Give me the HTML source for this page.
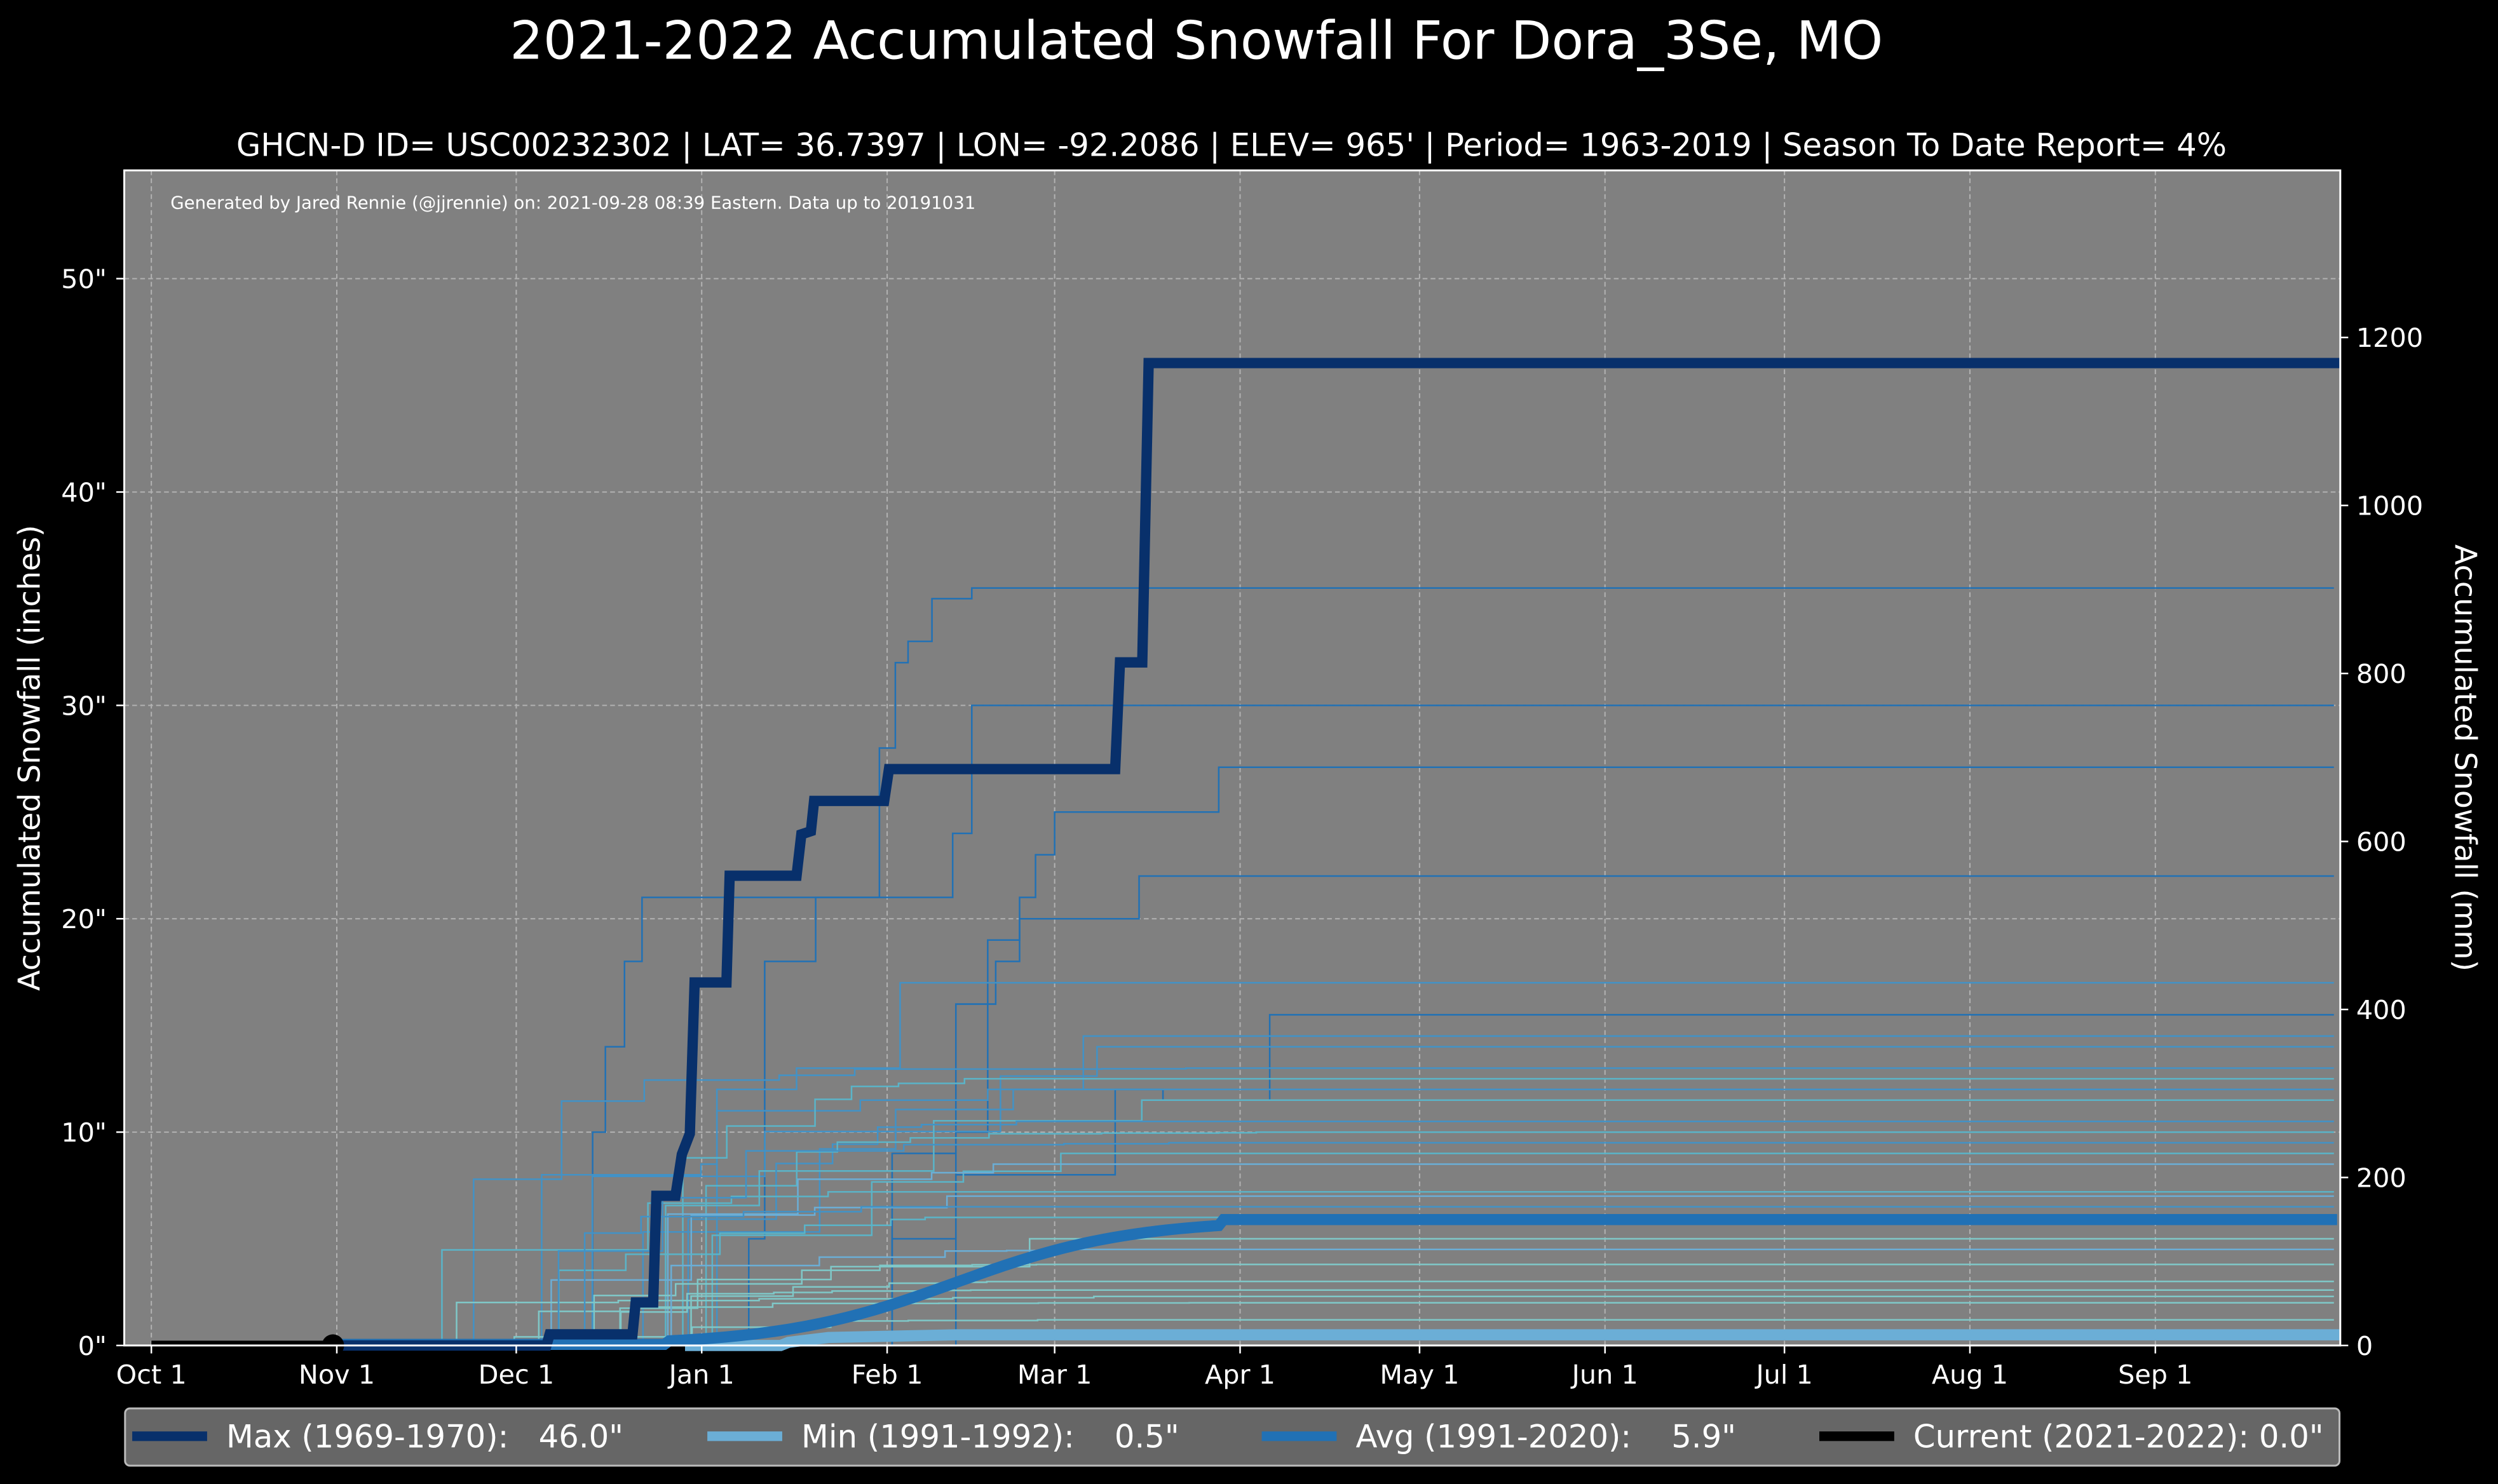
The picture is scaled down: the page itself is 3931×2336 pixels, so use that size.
<!DOCTYPE html>
<html><head><meta charset="utf-8"><style>
html,body{margin:0;padding:0;background:#000;}
svg{display:block;}
text{font-family:"DejaVu Sans","Liberation Sans",sans-serif;fill:#fff;white-space:pre;}
</style></head><body>
<svg id="s" width="3931" height="2336" viewBox="0 0 1568 932" preserveAspectRatio="none" xmlns="http://www.w3.org/2000/svg">
<rect width="1568" height="932" fill="#000"/>
<text x="751" y="37" font-size="33" text-anchor="middle">2021-2022 Accumulated Snowfall For Dora_3Se, MO</text>
<text x="773" y="98" font-size="19.8" text-anchor="middle">GHCN-D ID= USC00232302 | LAT= 36.7397 | LON= -92.2086 | ELEV= 965' | Period= 1963-2019 | Season To Date Report= 4%</text>
<rect x="78" y="107" width="1391" height="738" fill="#808080"/>
<g id="grid" stroke="#c8c8c8" stroke-width="0.8" stroke-dasharray="3,2" opacity="0.7"></g>
<text x="107" y="131" font-size="11">Generated by Jared Rennie (@jjrennie) on: 2021-09-28 08:39 Eastern. Data up to 20191031</text>
<g id="thin" fill="none" stroke-width="1"></g>
<polyline fill="none" stroke="#6baed6" stroke-width="7" points="430,845 490,845 495,843 520,840 600,838.3 1469,838.3"/>
<path id="avg" fill="none" stroke="#2171b5" stroke-width="7"/>
<polyline fill="none" stroke="#08306b" stroke-width="6.5" stroke-linejoin="miter" points="210,845 343,845 345,838 397,838 399,818 410,818 412,751 424,751 428,725 433,712 436,617 456,617 458,550 500,550 503,524 509,522 511,503 555,503 558,483 700,483 703,416 717,416 721,228 1469,228"/>
<line x1="95" y1="845" x2="209" y2="845" stroke="#000" stroke-width="6"/>
<circle cx="209" cy="845" r="7" fill="#000"/>
<rect x="78" y="107" width="1391" height="738" fill="none" stroke="#fff" stroke-width="1.2"/>
<g id="ticks" stroke="#fff" stroke-width="1"></g>
<g id="labels" font-size="16.5"></g>
<text transform="translate(25,476) rotate(-90)" font-size="19" text-anchor="middle">Accumulated Snowfall (inches)</text>
<text transform="translate(1541,476) rotate(90)" font-size="19" text-anchor="middle">Accumulated Snowfall (mm)</text>
<rect x="78.5" y="884.5" width="1390" height="36" rx="3" fill="#666" stroke="#bbb" stroke-width="1.2"/>
<line x1="83" y1="902" x2="130" y2="902" stroke="#08306b" stroke-width="6"/>
<text x="142" y="909" font-size="19.8">Max (1969-1970):   46.0"</text>
<line x1="444" y1="902" x2="491" y2="902" stroke="#6baed6" stroke-width="6"/>
<text x="503" y="909" font-size="19.8">Min (1991-1992):    0.5"</text>
<line x1="792" y1="902" x2="839" y2="902" stroke="#2171b5" stroke-width="6"/>
<text x="851" y="909" font-size="19.8">Avg (1991-2020):    5.9"</text>
<line x1="1142" y1="902" x2="1189" y2="902" stroke="#000" stroke-width="6"/>
<text x="1201" y="909" font-size="19.8">Current (2021-2022): 0.0"</text>
</svg>
<script>
const NS="http://www.w3.org/2000/svg";
function el(p,t,a,txt){const e=document.createElementNS(NS,t);for(const k in a)e.setAttribute(k,a[k]);if(txt!==undefined)e.textContent=txt;document.getElementById(p).appendChild(e);return e;}
const X=d=>95+d*3.755, Y=v=>845-v*13.4;
const months=[["Oct 1",0],["Nov 1",31],["Dec 1",61],["Jan 1",92],["Feb 1",123],["Mar 1",151],["Apr 1",182],["May 1",212],["Jun 1",243],["Jul 1",273],["Aug 1",304],["Sep 1",335]];
months.forEach(([m,d])=>{const x=X(d);el("grid","line",{x1:x,y1:107,x2:x,y2:845});el("ticks","line",{x1:x,y1:845,x2:x,y2:850});el("labels","text",{x:x,y:869,"text-anchor":"middle"},m);});
for(let v=0;v<=50;v+=10){const y=Y(v);if(v>0)el("grid","line",{x1:78,y1:y,x2:1469,y2:y});el("ticks","line",{x1:73,y1:y,x2:78,y2:y});el("labels","text",{x:67,y:y+6,"text-anchor":"end"},v+'"');}
for(let mm=0;mm<=1200;mm+=200){const y=845-mm/25.4*13.4;el("ticks","line",{x1:1469,y1:y,x2:1474,y2:y});el("labels","text",{x:1479,y:y+6},mm);}
let pts=[];for(let x=210;x<=1469;x+=3){let v;if(x<420)v=0.02*(x-210)/210;else{const t=(x-600)/55;v=5.9/(1+Math.exp(-t));if(x>765)v=5.9;}pts.push((pts.length?"L":"M")+x+","+Y(Math.max(v,0.05)));}
document.getElementById("avg").setAttribute("d",pts.join(" "));
const hand=[
[[330,0],[372,10],[380,14],[392,18],[403,21],[545,21],[552,28],[562,32],[570,33],[585,35],[610,35.5],[1465,35.5],"#2171b5"],
[[360,0],[470,5],[480,18],[505,18],[512,21],[590,21],[598,24],[610,30],[1465,30],"#2171b5"],
[[500,0],[560,9],[600,16],[625,18],[640,21],[650,23],[662,25],[730,25],[765,27.1],[1465,27.1],"#2171b5"],
[[550,0],[600,10],[620,19],[640,20],[700,20],[715,22],[760,22],[767,22],[1465,22],"#2171b5"],
[[420,0],[450,12],[480,12],[500,13],[560,13],[565,17],[1465,17],"#4292c6"],
[[500,0],[560,5],[600,8],[700,12],[730,11.5],[790,11.5],[797,15.5],[1465,15.5],"#2171b5"],
[[310,0],[340,8],[400,8],[440,8.5],[450,11],[540,11.5],[620,12],[680,14.5],[1465,14.5],"#4292c6"],
];
hand.forEach(a=>{const c=a.pop();let d="";a.forEach(([x,v],i)=>{const y=Y(v);if(i==0)d="M"+x+","+y;else d+=" H"+x+" V"+y;});el("thin","path",{d:d,stroke:c});});
let seed=7;const r=()=>{seed=(seed*9301+49297)%233280;return seed/233280;};
const finals=[[14,"#4292c6"],[13,"#4292c6"],[12.5,"#5ab4c8"],[12,"#4292c6"],[11.5,"#5ab4c8"],[10.5,"#4292c6"],[10,"#5ab4c8"],[9,"#5ab4c8"],[8.5,"#6baed6"],[7.2,"#5ab4c8"],[7,"#6baed6"],[6,"#5ab4c8"],[5,"#7fc8c8"],[3.8,"#7fc8c8"],[3,"#7fc8c8"],[2.6,"#7fc8c8"],[2.3,"#7fc8c8"],[2,"#7fc8c8"],[1.2,"#7fc8c8"],[6.5,"#4292c6"],[4.5,"#6baed6"],[9.5,"#4292c6"]];
finals.forEach(([f,c],i)=>{let x=200+r()*200;let end=560+r()*240;let v=0;let d="M"+x.toFixed(1)+","+Y(0);const n=4+Math.floor(r()*5);for(let k=1;k<=n;k++){x+= (end-x)/(n-k+1)*(0.5+r());if(x>end)x=end;v=k==n?f:Math.min(f,v+(f-v)*(0.3+r()*0.6));d+=" H"+x.toFixed(1)+" V"+Y(v).toFixed(1);}d+=" H1465";el("thin","path",{d:d,stroke:c});});
</script>
</body></html>
